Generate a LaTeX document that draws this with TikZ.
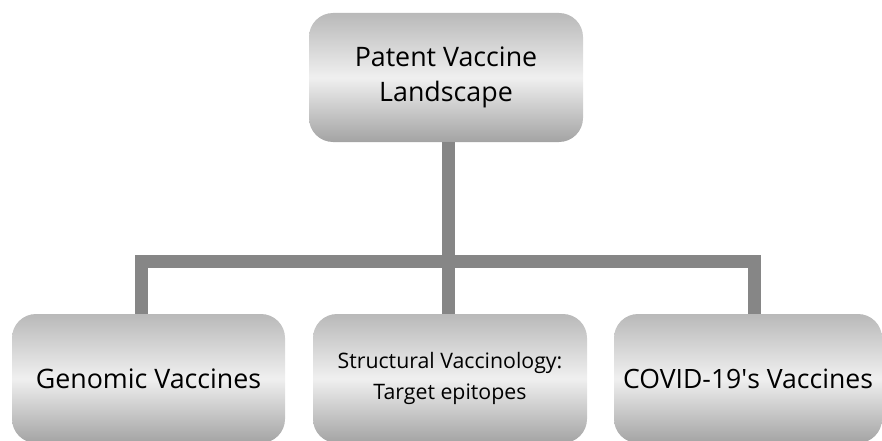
\documentclass[tikz,border=0pt]{standalone}
\usepackage{fontspec}
\setmainfont{Open Sans}
\begin{document}
\begin{tikzpicture}[x=1pt,y=1pt,
	box/.style={rounded corners=24pt,minimum width=274pt,minimum height=129pt,inner sep=0pt,
		top color=gray!55,bottom color=gray!72,middle color=gray!12,align=center,
		font=\fontsize{26.8}{35}\selectfont},
	link/.style={line width=13pt,draw=gray!95!white}]
	\clip (0,0) rectangle (882,440);
	\node[box] (land) at (446,362.5) {Patent Vaccine\\Landscape};
	\node[box,minimum width=273pt] (gen) at (148.5,61.5) {Genomic Vaccines};
	\node[box,font=\fontsize{21.3}{31}\selectfont] (struct) at (450,61.5) {Structural Vaccinology:\\Target epitopes};
	\node[box,minimum width=268pt,font=\fontsize{26.6}{35}\selectfont] (covid) at (748,61.5) {COVID-19\textquotesingle s Vaccines};
	% connectors
	\coordinate (hub) at (448.5,178.5);
	\coordinate (barL) at (141.5,178.5);
	\coordinate (barR) at (754,178.5);
	\draw[link] (hub |- land.south) -- (hub |- struct.north);
	\draw[link] (barL |- gen.north) -- (barL) -- (barR) -- (barR |- covid.north);
\end{tikzpicture}
\end{document}
